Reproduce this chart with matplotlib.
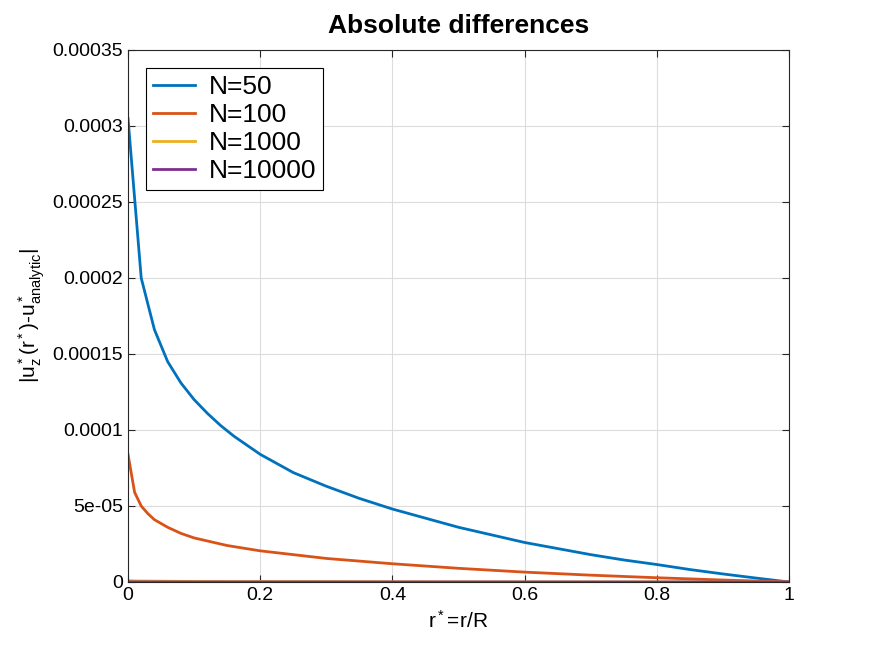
import matplotlib.pyplot as plt

plt.rcParams["font.family"] = ["Liberation Sans", "DejaVu Sans"]
plt.rcParams["mathtext.fontset"] = "custom"
plt.rcParams["mathtext.rm"] = "Liberation Sans"
plt.rcParams["mathtext.it"] = "Liberation Sans"

# values
r50 = [0, 0.02, 0.04, 0.06, 0.08, 0.10, 0.12, 0.14, 0.16, 0.20, 0.25, 0.30, 0.35, 0.40,
       0.45, 0.50, 0.55, 0.60, 0.65, 0.70, 0.75, 0.80, 0.85, 0.90, 0.95, 1.0]
u50 = [3.05e-4, 2.0e-4, 1.66e-4, 1.45e-4, 1.31e-4, 1.2e-4, 1.11e-4, 1.03e-4, 9.6e-5,
       8.4e-5, 7.2e-5, 6.3e-5, 5.5e-5, 4.8e-5, 4.2e-5, 3.6e-5, 3.1e-5, 2.6e-5, 2.2e-5,
       1.8e-5, 1.45e-5, 1.15e-5, 8.2e-6, 5.3e-6, 2.6e-6, 0]
r100 = [0, 0.01, 0.02, 0.03, 0.04, 0.06, 0.08, 0.10, 0.15, 0.20, 0.30, 0.40, 0.50,
        0.60, 0.70, 0.80, 0.90, 1.0]
u100 = [8.4e-5, 5.9e-5, 5.0e-5, 4.5e-5, 4.1e-5, 3.6e-5, 3.2e-5, 2.9e-5, 2.4e-5,
        2.05e-5, 1.55e-5, 1.2e-5, 9.0e-6, 6.5e-6, 4.5e-6, 2.8e-6, 1.3e-6, 0]
r1000 = [0, 0.01, 0.1, 0.5, 1.0]
u1000 = [1.0e-6, 7e-7, 3.5e-7, 1.1e-7, 0]
r10000 = [0, 0.01, 0.1, 0.5, 1.0]
u10000 = [1e-7, 7e-8, 3.5e-8, 1.1e-8, 0]

fig = plt.figure(figsize=(8.72, 6.54), dpi=100)
ax = fig.add_axes([128/872, 1-582/654, (789-128)/872, (582-50)/654])
ax.plot(r50, u50, color="#0072BD", lw=2, label="N=50")
ax.plot(r100, u100, color="#D95319", lw=2, label="N=100")
ax.plot(r1000, u1000, color="#EDB120", lw=2, label="N=1000")
ax.plot(r10000, u10000, color="#7E2F8E", lw=2, label="N=10000")

ax.set_xlim(0, 1)
ax.set_ylim(0, 3.5e-4)
ax.set_xticks([0, 0.2, 0.4, 0.6, 0.8, 1])
ax.set_xticklabels(["0", "0.2", "0.4", "0.6", "0.8", "1"])
yt = [0, 5e-5, 1e-4, 1.5e-4, 2e-4, 2.5e-4, 3e-4, 3.5e-4]
ax.set_yticks(yt)
ax.set_yticklabels(["0", "5e-05", "0.0001", "0.00015", "0.0002", "0.00025", "0.0003", "0.00035"])
ax.tick_params(direction="in", labelsize=14, top=True, right=True, length=5, color="#262626")
ax.grid(True, color="#dcdcdc", lw=0.8)
ax.set_axisbelow(True)
for s in ax.spines.values():
    s.set_color("#262626")

ax.set_title("Absolute differences", fontsize=19, fontweight="bold", pad=12)
ax.set_xlabel(r"$\mathregular{r^*\!=\!r/R}$", fontsize=15)
ax.set_ylabel(r"$\mathregular{|u_z^*(r^*)\text{-}u^*_{analytic}|}$", fontsize=15)

leg = ax.legend(loc="upper left", fontsize=19, fancybox=False, framealpha=1,
                edgecolor="black", borderaxespad=0.7, handlelength=1.6,
                handletextpad=0.5, borderpad=0.25, labelspacing=0.15)
leg.get_frame().set_linewidth(0.8)

plt.savefig("out.png", dpi=100)
